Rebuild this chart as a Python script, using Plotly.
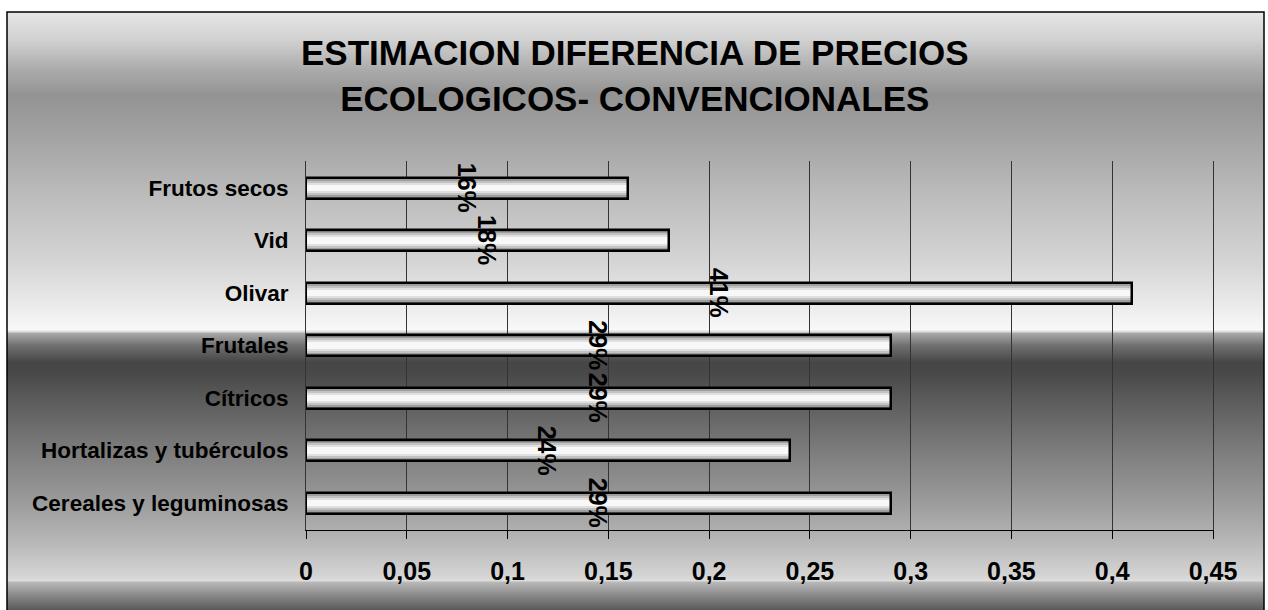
import base64
import struct
import zlib

import plotly.graph_objects as go

# ---------------- data ----------------
categories = [
    "Frutos secos",
    "Vid",
    "Olivar",
    "Frutales",
    "Cítricos",
    "Hortalizas y tubérculos",
    "Cereales y leguminosas",
]
values = [0.16, 0.18, 0.41, 0.29, 0.29, 0.24, 0.29]
x_tick_vals = [0, 0.05, 0.1, 0.15, 0.2, 0.25, 0.3, 0.35, 0.4, 0.45]
x_tick_text = ["0", "0,05", "0,1", "0,15", "0,2", "0,25", "0,3", "0,35", "0,4", "0,45"]
title_text = "ESTIMACION DIFERENCIA DE PRECIOS<br>ECOLOGICOS- CONVENCIONALES"

# ---------------- geometry (pixels) ----------------
W, H = 1268, 610
PL, PR, PT, PB = 306, 1213, 161, 530  # plot area in px
FRAME = (7, 12, 1264, 612)
FONT = "Liberation Sans, Arial, sans-serif"


def px_to_paper_x(px):
    return (px - PL) / (PR - PL)


def px_to_paper_y(py):
    return (PB - py) / (PB - PT)


# ---------------- background gradient (as PNG) ----------------
grad_stops = [
    (12, 0xE6), (40, 0xD0), (70, 0xAA), (95, 0x93), (130, 0xA0), (200, 0xBE),
    (260, 0xD4), (300, 0xE8), (325, 0xF6), (329, 0xF8), (331, 0xE0), (333, 0xA8),
    (345, 0x70), (362, 0x46), (372, 0x48), (400, 0x5C), (450, 0x7C), (500, 0x9A),
    (540, 0xB6), (575, 0xD4), (580, 0xDC), (582, 0xB8), (595, 0x88), (612, 0x52),
]


def gray_at(py):
    for (y0, g0), (y1, g1) in zip(grad_stops[:-1], grad_stops[1:]):
        if y0 <= py <= y1:
            t = (py - y0) / (y1 - y0) if y1 > y0 else 0
            return int(round(g0 + (g1 - g0) * t))
    return grad_stops[-1][1]


rows = [gray_at(py) for py in range(FRAME[1], FRAME[3])]


def chunk(tag, data):
    return (struct.pack(">I", len(data)) + tag + data
            + struct.pack(">I", zlib.crc32(tag + data) & 0xFFFFFFFF))


raw = b"".join(b"\x00" + bytes([g, g]) for g in rows)
png = (b"\x89PNG\r\n\x1a\n"
       + chunk(b"IHDR", struct.pack(">IIBBBBB", 2, len(rows), 8, 0, 0, 0, 0))
       + chunk(b"IDAT", zlib.compress(raw))
       + chunk(b"IEND", b""))
img_src = "data:image/png;base64," + base64.b64encode(png).decode()

fx0, fy0, fx1, fy1 = (px_to_paper_x(FRAME[0]), px_to_paper_y(FRAME[1]),
                      px_to_paper_x(FRAME[2]), px_to_paper_y(FRAME[3]))

# ---------------- bars (cylinder shading via overlaid bars) ----------------
fig = go.Figure()
bar_w = 0.40
shade_layers = [
    (1.00, "#7c7c7c"),
    (0.84, "#9e9e9e"),
    (0.68, "#c2c2c2"),
    (0.50, "#e0e0e0"),
    (0.32, "#f8f8f8"),
]
for frac, col in shade_layers:
    fig.add_trace(go.Bar(
        x=values, y=categories, orientation="h",
        width=bar_w * frac, marker=dict(color=col, line=dict(width=0)),
        hoverinfo="skip", showlegend=False,
    ))
fig.add_trace(go.Bar(
    x=values, y=categories, orientation="h",
    width=bar_w, marker=dict(color="rgba(0,0,0,0)", line=dict(color="black", width=2.5)),
    hoverinfo="skip", showlegend=False,
))

annotations = []
for cat, v in zip(categories, values):
    annotations.append(dict(
        x=v / 2, y=cat, xref="x", yref="y", text=f"{round(v * 100)}%",
        textangle=90, showarrow=False, xanchor="center", yanchor="middle",
        font=dict(family=FONT, size=25, color="black", weight="bold"),
    ))
annotations.append(dict(
    x=px_to_paper_x(635), y=px_to_paper_y(75), xref="paper", yref="paper",
    text=title_text, showarrow=False, xanchor="center", yanchor="middle",
    font=dict(family=FONT, size=35, color="black", weight="bold"),
))

fig.update_layout(
    width=W, height=H,
    margin=dict(l=PL, r=W - PR, t=PT, b=H - PB, pad=0),
    paper_bgcolor="white", plot_bgcolor="rgba(0,0,0,0)",
    barmode="overlay", bargap=0,
    showlegend=False,
    annotations=annotations,
    images=[dict(
        source=img_src, xref="paper", yref="paper",
        x=fx0, y=fy0, sizex=fx1 - fx0, sizey=fy0 - fy1,
        xanchor="left", yanchor="top", sizing="stretch", layer="below",
    )],
    shapes=[dict(
        type="rect", xref="paper", yref="paper",
        x0=fx0, x1=fx1, y0=fy1, y1=fy0,
        line=dict(color="black", width=1.5), fillcolor="rgba(0,0,0,0)", layer="below",
    )],
    xaxis=dict(
        range=[0, 0.45], tickvals=x_tick_vals, ticktext=x_tick_text,
        showgrid=True, gridcolor="#333333", gridwidth=1,
        showline=True, linecolor="black", linewidth=1,
        ticks="outside", ticklen=8, tickcolor="black", tickwidth=1,
        ticklabelstandoff=11, zeroline=False,
        tickfont=dict(family=FONT, size=25, color="black", weight="bold"),
        fixedrange=True,
    ),
    yaxis=dict(
        autorange="reversed", type="category",
        showgrid=False, showline=True, mirror=True, linecolor="#333333", linewidth=1,
        ticks="", ticklabelstandoff=12,
        tickfont=dict(family=FONT, size=22.5, color="black", weight="bold"),
        fixedrange=True,
    ),
)

fig.write_html(
    "out.html",
    config={"displayModeBar": False},
    post_script="document.body.style.margin='0';document.body.style.overflow='hidden';",
)
